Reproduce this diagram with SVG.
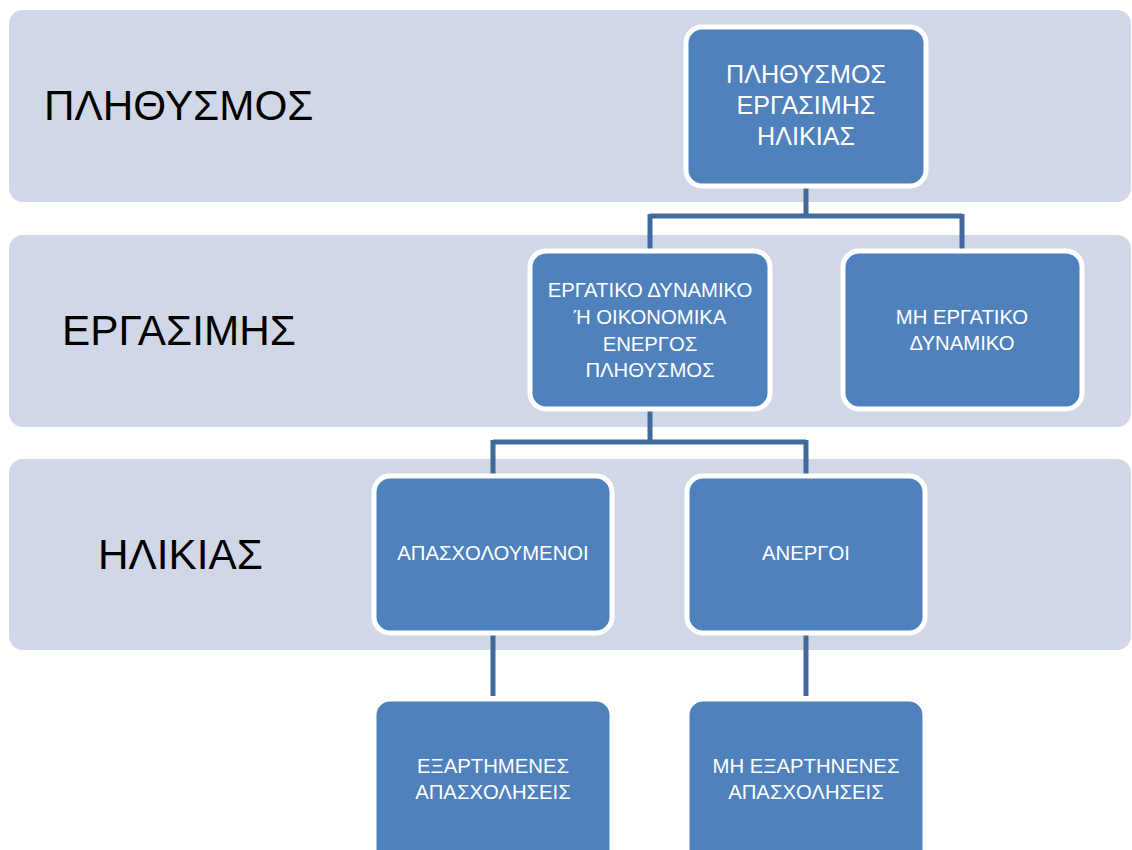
<svg xmlns="http://www.w3.org/2000/svg" width="1132" height="850" viewBox="0 0 1132 850">
<style>
.band{fill:#D0D8E8;}
.blab{font-family:"Liberation Sans",Arial,sans-serif;font-size:42.3px;fill:#000;}
.node{fill:#4F81BD;stroke:#FFFFFF;stroke-width:5;}
.ntxt{font-family:"Liberation Sans",Arial,sans-serif;fill:#FFFFFF;text-anchor:middle;}
.conn{fill:none;stroke:#41699C;stroke-width:5;}
</style>
<rect width="1132" height="850" fill="#FFFFFF"/>
<g id="bands">
<rect class="band" x="9" y="10" width="1122" height="192" rx="14"/>
<rect class="band" x="9" y="235" width="1122" height="192" rx="14"/>
<rect class="band" x="9" y="459" width="1122" height="191" rx="14"/>
<text class="blab" x="44" y="120">ΠΛΗΘΥΣΜΟΣ</text>
<text class="blab" x="62" y="345">ΕΡΓΑΣΙΜΗΣ</text>
<text class="blab" x="98" y="569">ΗΛΙΚΙΑΣ</text>
</g>
<g id="connectors">
<path class="conn" d="M806 188 V216 M650 216 H962 M650 214 V250 M962 214 V250"/>
<path class="conn" d="M650 410 V442 M493 442 H806 M493 440 V475 M806 440 V475"/>
<path class="conn" d="M493 633 V696"/>
<path class="conn" d="M806 633 V696"/>
</g>
<g id="n1">
<rect class="node" x="686" y="27" width="240" height="159" rx="16"/>
<text class="ntxt" font-size="25.1"><tspan x="806" y="83">ΠΛΗΘΥΣΜΟΣ</tspan><tspan x="806" y="114">ΕΡΓΑΣΙΜΗΣ</tspan><tspan x="806" y="145">ΗΛΙΚΙΑΣ</tspan></text>
</g>
<g id="n2">
<rect class="node" x="530" y="251" width="240" height="158" rx="16"/>
<text class="ntxt" font-size="20.3"><tspan x="650" y="297">ΕΡΓΑΤΙΚΟ ΔΥΝΑΜΙΚΟ</tspan><tspan x="650" y="324">Ή ΟΙΚΟΝΟΜΙΚΑ</tspan><tspan x="650" y="351">ΕΝΕΡΓΟΣ</tspan><tspan x="650" y="377">ΠΛΗΘΥΣΜΟΣ</tspan></text>
</g>
<g id="n3">
<rect class="node" x="843" y="251" width="239" height="158" rx="16"/>
<text class="ntxt" font-size="20.3"><tspan x="962" y="324">ΜΗ ΕΡΓΑΤΙΚΟ</tspan><tspan x="962" y="350">ΔΥΝΑΜΙΚΟ</tspan></text>
</g>
<g id="n4">
<rect class="node" x="374" y="476" width="238" height="157" rx="16"/>
<text class="ntxt" font-size="20.3"><tspan x="493" y="560">ΑΠΑΣΧΟΛΟΥΜΕΝΟΙ</tspan></text>
</g>
<g id="n5">
<rect class="node" x="687" y="476" width="238" height="157" rx="16"/>
<text class="ntxt" font-size="20.3"><tspan x="806" y="560">ΑΝΕΡΓΟΙ</tspan></text>
</g>
<g id="n6">
<rect class="node" x="374" y="699" width="238" height="170" rx="16"/>
<text class="ntxt" font-size="20.3"><tspan x="493" y="773">ΕΞΑΡΤΗΜΕΝΕΣ</tspan><tspan x="493" y="799">ΑΠΑΣΧΟΛΗΣΕΙΣ</tspan></text>
</g>
<g id="n7">
<rect class="node" x="687" y="699" width="238" height="170" rx="16"/>
<text class="ntxt" font-size="20.3"><tspan x="806" y="773">ΜΗ ΕΞΑΡΤΗΝΕΝΕΣ</tspan><tspan x="806" y="799">ΑΠΑΣΧΟΛΗΣΕΙΣ</tspan></text>
</g>
</svg>
